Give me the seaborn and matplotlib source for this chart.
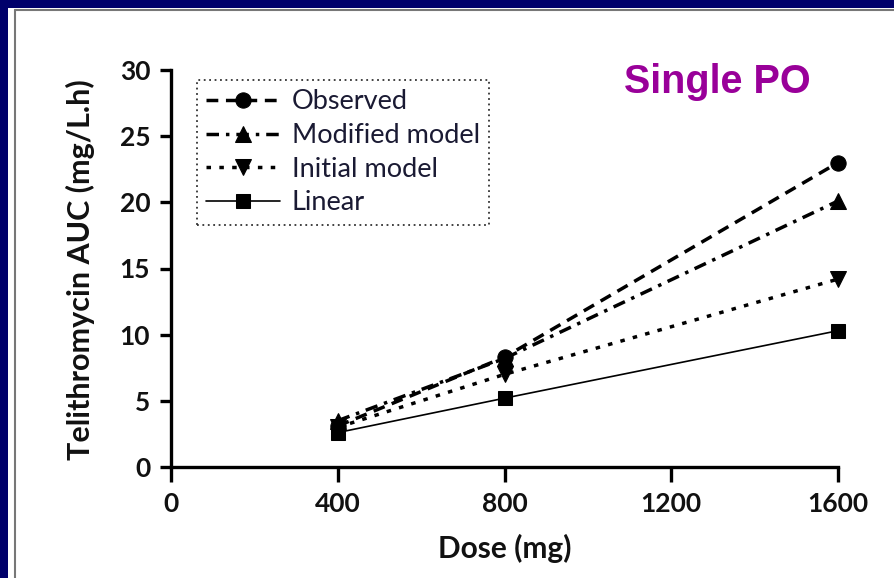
import matplotlib
matplotlib.use("Agg")
import matplotlib.pyplot as plt
import seaborn as sns
import pandas as pd
from matplotlib.patches import Rectangle
from matplotlib.lines import Line2D

sns.set_style("ticks")
plt.rcParams['font.family'] = ['Lato', 'DejaVu Sans']

doses = [400, 800, 1600]
observed = [3.1, 8.3, 23.0]
modified = [3.5, 8.2, 20.1]
initial = [3.0, 7.0, 14.2]
linear = [2.6, 5.2, 10.3]
series_names = ["Observed", "Modified model", "Initial model", "Linear"]
x_ticks = [0, 400, 800, 1200, 1600]
y_ticks = [0, 5, 10, 15, 20, 25, 30]

W, H = 894, 578
navy = "#00006b"
fig = plt.figure(figsize=(W/100, H/100), dpi=100)
fig.patch.set_facecolor("white")
fig.patch.set_edgecolor("white")
fig.patches.append(Rectangle((-0.1, -0.1), 0.1 + 8/W, 1.2, transform=fig.transFigure,
                             facecolor=navy, edgecolor="none", zorder=-10))
fig.patches.append(Rectangle((-0.1, 1 - 8/H), 1.2, 0.2, transform=fig.transFigure,
                             facecolor=navy, edgecolor="none", zorder=-10))
fig.lines.append(Line2D([15/W, 15/W], [-0.1, 1 - 10/H], transform=fig.transFigure, color="#777777", lw=1.5, zorder=-5))
fig.lines.append(Line2D([15/W, 1.1], [1 - 10/H, 1 - 10/H], transform=fig.transFigure, color="#777777", lw=1.5, zorder=-5))

ax = fig.add_axes([171/W, 1 - 467/H, (838 - 171)/W, (467 - 70)/H])
ax.set_facecolor("none")

styles = [
    dict(linestyle=(0, (3.4, 2.2)), marker="o", ms=11, lw=2.5),
    dict(linestyle=(0, (3.6, 2.0, 1.0, 2.0)), marker="^", ms=11, lw=2.5),
    dict(linestyle=(0, (1.3, 2.4)), marker="v", ms=11, lw=2.5),
    dict(linestyle="-", marker="s", ms=10.5, lw=1.2),
]
data = [observed, modified, initial, linear]
for name, vals, st in zip(series_names, data, styles):
    df = pd.DataFrame({"Dose": doses, "AUC": vals})
    sns.lineplot(data=df, x="Dose", y="AUC", ax=ax, color="black",
                 linestyle=st["linestyle"], marker=st["marker"], markersize=st["ms"],
                 linewidth=st["lw"], markeredgecolor="black", label=name, clip_on=False)

ax.set_xlim(0, 1600)
ax.set_ylim(0, 30)
ax.set_xticks(x_ticks)
ax.set_yticks(y_ticks)
for s in ["top", "right"]:
    ax.spines[s].set_visible(False)
for s in ["left", "bottom"]:
    ax.spines[s].set_linewidth(2.4)
    ax.spines[s].set_color("black")
ax.tick_params(axis="x", width=2.4, length=11, color="black", labelsize=19, pad=7)
ax.tick_params(axis="y", width=2.4, length=8, color="black", labelsize=19, pad=7)
for lab in ax.get_xticklabels() + ax.get_yticklabels():
    lab.set_fontweight("bold")
    lab.set_color("#111111")

ax.set_xlabel("Dose (mg)", fontsize=21.5, fontweight="bold", color="#111111")
ax.set_ylabel("Telithromycin AUC (mg/L.h)", fontsize=22, fontweight="bold", color="#111111")
ax.xaxis.set_label_coords((505 - 171) / 667, -(548 - 467) / 397)
ax.yaxis.set_label_coords(-(171 - 80) / 667, (467 - 270) / 397)
ax.xaxis.label.set_va("center")
ax.yaxis.label.set_va("center")
ax.yaxis.label.set_ha("center")

leg = ax.legend(loc="upper left", bbox_to_anchor=((197 - 171) / 667, (467 - 80) / 397),
                fontsize=19.5, handlelength=2.7, frameon=True, fancybox=False,
                borderpad=0.35, labelspacing=0.32, handletextpad=0.45, borderaxespad=0)
fr = leg.get_frame()
fr.set_linestyle((0, (1, 2)))
fr.set_edgecolor("black")
fr.set_linewidth(1.3)
for t in leg.get_texts():
    t.set_color("#1a1a33")

fig.text(717/W, 1 - 82/H, "Single PO", color="#990099", fontsize=28.5, fontweight="bold",
         ha="center", va="center", family=["Liberation Sans", "DejaVu Sans"])

fig.savefig("out.png", dpi=100)
